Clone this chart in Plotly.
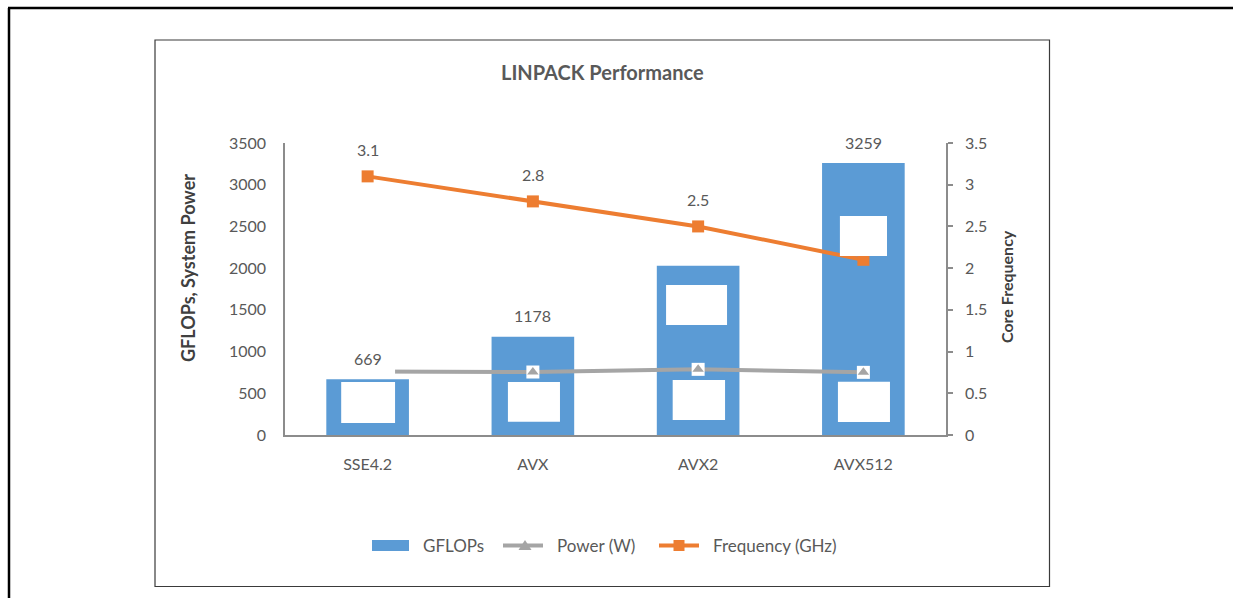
import plotly.graph_objects as go

# ---- data -------------------------------------------------------------
categories = ["SSE4.2", "AVX", "AVX2", "AVX512"]
gflops = [669, 1178, 2030, 3259]
gflops_labels = ["669", "1178", "", "3259"]
power_w = [760, 755, 787, 751]
freq_ghz = [3.1, 2.8, 2.5, 2.1]
freq_labels = ["3.1", "2.8", "2.5", ""]
left_ticks = [0, 500, 1000, 1500, 2000, 2500, 3000, 3500]
right_ticks = [0, 0.5, 1, 1.5, 2, 2.5, 3, 3.5]
legend_names = ["GFLOPs", "Power (W)", "Frequency (GHz)"]

# white label boxes sitting on the bars: (category index, dx0, dx1, y0, y1)
label_boxes = [
    (0, -0.16, 0.166, 144, 635),
    (0, -0.16, 0.166, 690, 830),
    (1, -0.151, 0.164, 159, 635),
    (2, -0.194, 0.175, 1318, 1798),
    (2, -0.154, 0.163, 180, 659),
    (3, -0.142, 0.143, 2146, 2625),
    (3, -0.154, 0.161, 156, 639),
]

BLUE = "#5B9BD5"
ORANGE = "#ED7D31"
GREY = "#A5A5A5"
TEXT = "#595959"
AXIS = "#8C8C8C"
FONT = "Lato"

W, H = 1238, 598
L, R, T, B = 285, 946, 143, 435  # plot area in pixels


def px(x):
    return (x - L) / (R - L)


def py(y):
    return (B - y) / (B - T)


fig = go.Figure()

fig.add_trace(go.Bar(
    x=categories, y=gflops, width=0.5, marker=dict(color=BLUE, line=dict(width=0)),
    name=legend_names[0], showlegend=False, hoverinfo="x+y",
))

fig.add_trace(go.Scatter(
    x=categories, y=power_w, mode="lines", line=dict(color=GREY, width=4),
    name=legend_names[1], showlegend=False, hoverinfo="skip",
))

fig.add_trace(go.Scatter(
    x=categories, y=freq_ghz, yaxis="y2", mode="lines+markers",
    line=dict(color=ORANGE, width=4),
    marker=dict(symbol="square", size=12, color=ORANGE),
    name=legend_names[2], showlegend=False,
))

shapes = []
for ci, d0, d1, y0, y1 in label_boxes:
    shapes.append(dict(type="rect", xref="x", yref="y", x0=ci + d0, x1=ci + d1,
                       y0=y0, y1=y1, fillcolor="white", line=dict(width=0), layer="above"))

# outer page frame and chart frame
shapes.append(dict(type="line", xref="paper", yref="paper", x0=px(9), x1=px(9),
                   y0=py(8), y1=py(600), line=dict(color="black", width=2.5)))
shapes.append(dict(type="line", xref="paper", yref="paper", x0=px(8), x1=px(1233),
                   y0=py(8), y1=py(8), line=dict(color="black", width=2.5)))
shapes.append(dict(type="rect", xref="paper", yref="paper", x0=px(155), x1=px(1049.5),
                   y0=py(40), y1=py(586.5), line=dict(color="#3a3a3a", width=1.2)))

# legend row
LEG_Y = 545.5
shapes.append(dict(type="rect", xref="paper", yref="paper", x0=px(372), x1=px(409),
                   y0=py(540), y1=py(551), fillcolor=BLUE, line=dict(width=0)))
shapes.append(dict(type="line", xref="paper", yref="paper", x0=px(503), x1=px(543),
                   y0=py(LEG_Y), y1=py(LEG_Y), line=dict(color=GREY, width=4)))
shapes.append(dict(type="path", xref="paper", yref="paper",
                   path=f"M {px(518.5)} {py(550)} L {px(531.5)} {py(550)} L {px(525)} {py(540)} Z",
                   fillcolor=GREY, line=dict(width=0)))
shapes.append(dict(type="line", xref="paper", yref="paper", x0=px(659), x1=px(699),
                   y0=py(LEG_Y), y1=py(LEG_Y), line=dict(color=ORANGE, width=4)))
shapes.append(dict(type="rect", xref="paper", yref="paper", x0=px(673.5), x1=px(684.5),
                   y0=py(540), y1=py(551), fillcolor=ORANGE, line=dict(width=0)))

fig.update_layout(shapes=shapes)

# power markers drawn above the white boxes
fig.add_trace(go.Scatter(
    x=categories[1:], y=power_w[1:], mode="markers",
    marker=dict(symbol="square", size=13, color="white"),
    showlegend=False, hoverinfo="skip",
))
fig.add_trace(go.Scatter(
    x=categories[1:], y=power_w[1:], mode="markers", name=legend_names[1],
    marker=dict(symbol="triangle-up", size=10, color=GREY),
    showlegend=False,
))

annotations = []
for c, v, t in zip(categories, gflops, gflops_labels):
    if t:
        annotations.append(dict(x=c, y=v, xref="x", yref="y", text=t, showarrow=False,
                                yshift=21, font=dict(family=FONT, size=16, color=TEXT)))
for c, v, t in zip(categories, freq_ghz, freq_labels):
    if t:
        annotations.append(dict(x=c, y=v, xref="x", yref="y2", text=t, showarrow=False,
                                yshift=27, font=dict(family=FONT, size=16, color=TEXT)))

for name, x0 in zip(legend_names, [420.5, 555, 710.5]):
    annotations.append(dict(text=name, x=px(x0), y=py(LEG_Y), xref="paper", yref="paper",
                            xanchor="left", yanchor="middle", showarrow=False,
                            font=dict(family=FONT, size=17, color=TEXT)))

annotations += [
    dict(text="<b>LINPACK Performance</b>", x=px(602), y=py(72), xref="paper", yref="paper",
         xanchor="center", yanchor="middle",
         showarrow=False, font=dict(family=FONT, size=20, color=TEXT)),
    dict(text="<b>GFLOPs, System Power</b>", x=px(188), y=py(268), xref="paper", yref="paper",
         xanchor="center", yanchor="middle",
         showarrow=False, textangle=-90, font=dict(family=FONT, size=18, color="#404040")),
    dict(text="<b>Core Frequency</b>", x=px(1006), y=py(287), xref="paper", yref="paper",
         xanchor="center", yanchor="middle",
         showarrow=False, textangle=-90, font=dict(family=FONT, size=16, color="#404040")),
]

fig.update_layout(
    width=W, height=H,
    margin=dict(l=L, r=W - R, t=T, b=H - B, pad=0),
    paper_bgcolor="white", plot_bgcolor="white",
    font=dict(family=FONT, size=16, color=TEXT),
    xaxis=dict(
        type="category", showgrid=False, zeroline=False,
        showline=True, linecolor=AXIS, linewidth=1.5, ticks="",
        tickfont=dict(family=FONT, size=16, color=TEXT), ticklabelstandoff=14,
    ),
    yaxis=dict(
        range=[0, 3500], tickvals=left_ticks, showgrid=False, zeroline=False,
        showline=True, linecolor=AXIS, linewidth=1.5, ticks="",
        tickfont=dict(family=FONT, size=16, color=TEXT), ticklabelstandoff=14,
    ),
    yaxis2=dict(
        range=[0, 3.5], tickvals=right_ticks, overlaying="y", side="right",
        showgrid=False, zeroline=False, showline=True, linecolor=AXIS, linewidth=1.5,
        ticks="outside", ticklen=5, tickcolor=AXIS, tickwidth=1.5,
        tickfont=dict(family=FONT, size=16, color=TEXT), ticklabelstandoff=9,
    ),
    annotations=annotations,
    showlegend=False,
)

fig.write_html("out.html")
